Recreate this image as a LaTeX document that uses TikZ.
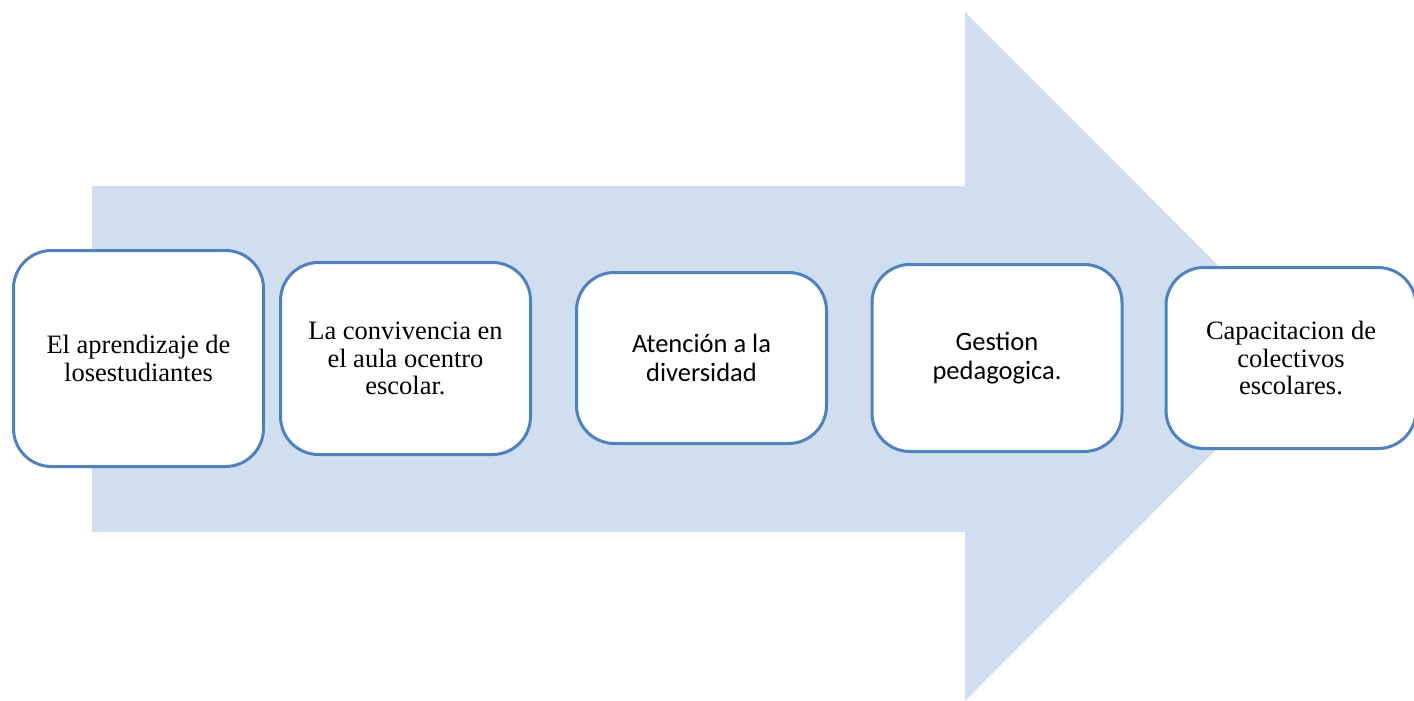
\documentclass[tikz,border=0pt]{standalone}
\usepackage{fontspec}
\setmainfont{Liberation Serif}
\newfontfamily\calibri{Carlito}
\usepackage{tikz}
\usetikzlibrary{positioning}
\definecolor{BoxBlue}{RGB}{79,129,189}
\definecolor{ArrowFill}{RGB}{209,222,240}
\tikzset{
    stagebox/.style={rectangle, rounded corners=38pt, draw=BoxBlue, fill=white, line width=3pt, minimum width=250pt, align=center, inner sep=4pt},
    serif/.style={font=\fontsize{26.5}{27.5}\selectfont},
    sans/.style={font=\calibri\fontsize{26.5}{29}\selectfont}
}
\begin{document}
\begin{tikzpicture}[x=1pt, y=-1pt]
    \useasboundingbox (0,0) rectangle (1414,701);
    % big arrow behind the boxes
    \fill[ArrowFill] (92,186) -- (965,186) -- (965,12) -- (1309,356.5) -- (965,701)
        -- (965,532) -- (92,532) -- cycle;
    \node[stagebox, serif, minimum height=216pt] (aprendizaje) at (138.5,358.5)
        {El aprendizaje de\\losestudiantes};
    \node[stagebox, serif, minimum height=192pt] (convivencia) at (405.5,358.5)
        {La convivencia en\\el aula ocentro\\escolar.};
    \node[stagebox, sans, minimum height=171pt] (diversidad) at (701.5,358)
        {Atención a la\\diversidad};
    \node[stagebox, sans, minimum height=187pt] (gestion) at (997,358)
        {Gestion\\pedagogica.};
    \node[stagebox, serif, minimum height=181pt] (capacitacion) at (1291,358)
        {Capacitacion de\\colectivos\\escolares.};
\end{tikzpicture}
\end{document}
